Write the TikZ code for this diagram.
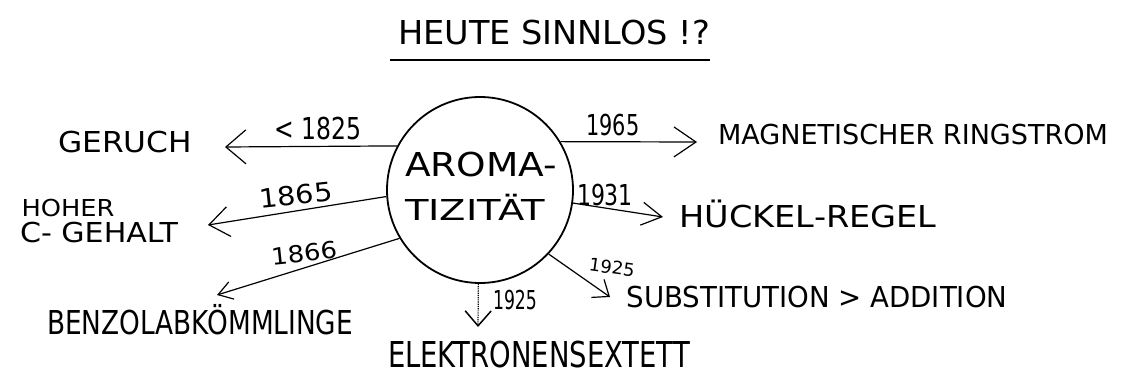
\documentclass[tikz,border=0pt]{standalone}
\usepackage{fontspec}
\setmainfont{DejaVu Sans}
\usetikzlibrary{arrows.meta}
\newsavebox\hwbox
\newlength\hwcap
\newcommand{\hwtext}[3]{%
  \sbox\hwbox{#3}\settoheight\hwcap{H}%
  \pgfmathsetmacro\hwxs{#1/\the\wd\hwbox}%
  \pgfmathsetmacro\hwys{#2/\the\hwcap}%
  \scalebox{\hwxs}[\hwys]{\usebox\hwbox}}
\begin{document}
\begin{tikzpicture}[x=1pt,y=-1pt,
  txt/.style={inner sep=0pt, outer sep=0pt, anchor=south},
  conn/.style={line width=1.2pt, -{Straight Barb[length=16pt,width=26pt,line width=1.2pt]}},
  ring/.style={circle, draw, line width=1.8pt, minimum size=186pt, inner sep=0pt}]
\useasboundingbox (0,0) rectangle (1129,377);
% title
\node[txt] (title) at (554,45) {\hwtext{312}{24}{HEUTE SINNLOS !?}};
\draw[line width=2.4pt] ([xshift=-8pt,yshift=-15pt]title.south west) -- ([yshift=-15pt]title.south east);
% centre
\node[ring] (arom) at (480,190) {};
\node[txt] (aroma) at (481,177) {\hwtext{152}{24}{AROMA-}};
\node[txt] (tizi) at (475,220) {\hwtext{140}{21}{TIZITÄT}};
% outer texts
\node[txt] (geruch) at (125,153) {\hwtext{134}{21}{GERUCH}};
\node[txt] (hoher) at (68,217) {\hwtext{93}{17}{HOHER}};
\node[txt] (gehalt) at (99,243) {\hwtext{158}{20}{C- GEHALT}};
\node[txt] (benzol) at (200,335) {\hwtext{306}{24}{BENZOLABKÖMMLINGE}};
\node[txt] (elek) at (539,368) {\hwtext{302}{26}{ELEKTRONENSEXTETT}};
\node[txt] (subst) at (817,308) {\hwtext{381}{21}{SUBSTITUTION > ADDITION}};
\node[txt] (magn) at (913,145) {\hwtext{390}{20}{MAGNETISCHER RINGSTROM}};
\node[txt] (hueckel) at (808,228) {\hwtext{257}{22}{HÜCKEL-REGEL}};
% tips
\coordinate (tGer) at (225,147);
\coordinate (tHoh) at (208,225);
\coordinate (tBen) at (217,295);
\coordinate (tEle) at (478,327);
\coordinate (tSub) at (610,297);
\coordinate (tHue) at (663,217);
\coordinate (tMag) at (697,142);
% connectors
\draw[conn,-{Straight Barb[length=20pt,width=34pt,line width=1.2pt]}] (arom.152.5) -- (tGer);
\draw[conn,-{Straight Barb[length=20pt,width=30pt,line width=1.2pt]}] (arom.184.3) -- (tHoh);
\draw[conn,-{Straight Barb[length=14pt,width=18pt,line width=1.2pt]}] (arom.211) -- (tBen);
\draw[conn,densely dotted,-{Straight Barb[length=15pt,width=26pt,line width=1.5pt,sep=0pt]}] (arom.-91) -- (tEle);
\draw[conn,-{Straight Barb[length=14pt,width=22pt,line width=1.2pt]}] (arom.-43) -- (tSub);
\draw[conn,-{Straight Barb[length=20pt,width=23pt,line width=1.2pt]}] (arom.-8) -- (tHue);
\draw[conn,-{Straight Barb[length=22pt,width=30pt,line width=1.2pt]}] (arom.31) -- (tMag);
% labels
\node[txt] (l1825) at (318,140) {\hwtext{87}{22}{< 1825}};
\node[txt,rotate=6] (l1865) at (297,205) {\hwtext{73}{19}{1865}};
\node[txt,rotate=6] (l1866) at (305,262) {\hwtext{66}{17}{1866}};
\node[txt] (l1925a) at (515,310) {\hwtext{44}{19}{1925}};
\node[txt,rotate=-8] (l1925b) at (611,274) {\hwtext{46}{13}{1925}};
\node[txt] (l1965) at (613,136) {\hwtext{53}{21}{1965}};
\node[txt] (l1931) at (605,206) {\hwtext{56}{21}{1931}};
\end{tikzpicture}
\end{document}
